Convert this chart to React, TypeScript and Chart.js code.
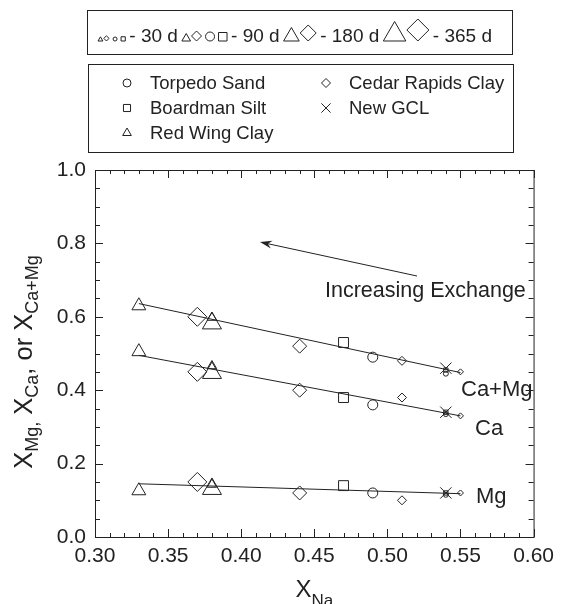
import React, { useEffect, useRef } from "react";
import { Chart, registerables } from "chart.js";
import { drawPoint } from "chart.js/helpers";

Chart.register(...registerables);

// ---------- data ----------
const xTickValues = [0.3, 0.35, 0.4, 0.45, 0.5, 0.55, 0.6];
const yTickValues = [0, 0.2, 0.4, 0.6, 0.8, 1.0];

const torpedoX = [0.49, 0.54];
const torpedoAge = [90, 30];
const torpedoCaMg = [0.49, 0.445];
const torpedoCa = [0.36, 0.335];
const torpedoMg = [0.12, 0.115];

const boardmanX = [0.47, 0.54];
const boardmanAge = [90, 30];
const boardmanCaMg = [0.53, 0.455];
const boardmanCa = [0.38, 0.34];
const boardmanMg = [0.14, 0.12];

const redWingX = [0.33, 0.38, 0.38];
const redWingAge = [180, 90, 365];
const redWingCaMg = [0.63, 0.598, 0.582];
const redWingCa = [0.505, 0.466, 0.447];
const redWingMg = [0.126, 0.143, 0.131];

const cedarX = [0.37, 0.44, 0.51, 0.55];
const cedarAge = [365, 180, 90, 30];
const cedarCaMg = [0.6, 0.52, 0.48, 0.45];
const cedarCa = [0.45, 0.4, 0.38, 0.33];
const cedarMg = [0.15, 0.12, 0.1, 0.12];

const gclX = [0.54];
const gclCaMg = [0.46];
const gclCa = [0.34];
const gclMg = [0.12];

const fitX = [0.33, 0.55];
const fitCaMg = [0.636, 0.448];
const fitCa = [0.495, 0.33];
const fitMg = [0.145, 0.118];

const ageLabels = ["- 30 d", "- 90 d", "- 180 d", "- 365 d"];
const soilNames = ["Torpedo Sand", "Boardman Silt", "Red Wing Clay", "Cedar Rapids Clay", "New GCL"];
const curveLabels = ["Ca+Mg", "Ca", "Mg"];

// ---------- styling ----------
const INK = "#222";
const FONT = "'Liberation Sans', Arial, Helvetica, sans-serif";

const sizeByStyle: Record<string, Record<number, number>> = {
  triangle: { 30: 2.5, 90: 5.5, 180: 8, 365: 11 },
  rectRot: { 30: 3, 90: 4.5, 180: 7, 365: 9.5 },
  circle: { 30: 2.5, 90: 5, 180: 7, 365: 9 },
  rect: { 30: 3, 90: 7, 180: 9, 365: 11 },
  crossRot: { 30: 8, 90: 8, 180: 8, 365: 8 },
};

function soilDataset(label: string, style: string, xs: number[], ages: number[], a: number[], b: number[], c: number[]) {
  const data = [
    ...xs.map((x, i) => ({ x, y: a[i] })),
    ...xs.map((x, i) => ({ x, y: b[i] })),
    ...xs.map((x, i) => ({ x, y: c[i] })),
  ];
  const radii = [...ages, ...ages, ...ages].map((d) => sizeByStyle[style][d]);
  return {
    label,
    data,
    showLine: false,
    pointStyle: style,
    pointRadius: radii,
    pointHoverRadius: radii,
    pointBorderWidth: 1,
    pointBorderColor: INK,
    pointBackgroundColor: "rgba(0,0,0,0)",
    borderColor: INK,
    backgroundColor: "rgba(0,0,0,0)",
  };
}

function fitDataset(label: string, ys: number[]) {
  return {
    label,
    data: fitX.map((x, i) => ({ x, y: ys[i] })),
    showLine: true,
    pointRadius: 0,
    borderColor: INK,
    borderWidth: 1,
    backgroundColor: INK,
  };
}

function marker(ctx: CanvasRenderingContext2D, style: string, x: number, y: number, r: number) {
  ctx.save();
  ctx.strokeStyle = INK;
  ctx.fillStyle = "rgba(0,0,0,0)";
  ctx.lineWidth = 1;
  drawPoint(ctx, { pointStyle: style as any, radius: r, rotation: 0, borderWidth: 1 } as any, x, y);
  ctx.restore();
}

function halfWidth(style: string, r: number) {
  if (style === "triangle") return r * 0.866;
  if (style === "rect") return r * 0.707;
  if (style === "crossRot") return r * 0.707;
  return r;
}
function bottomAlignedY(style: string, r: number, base: number) {
  if (style === "triangle") return base - r / 2;
  if (style === "rect") return base - r * 0.707;
  return base - r;
}

function subText(ctx: CanvasRenderingContext2D, parts: [string, boolean][], x: number, y: number, big: number, small: number, drop: number, measureOnly = false) {
  let w = 0;
  for (const [t, sub] of parts) {
    ctx.font = `${sub ? small : big}px ${FONT}`;
    if (!measureOnly) ctx.fillText(t, x + w, sub ? y + drop : y);
    w += ctx.measureText(t).width;
  }
  return w;
}

const decorPlugin = {
  id: "decor",
  afterDraw(chart: any) {
    const ctx: CanvasRenderingContext2D = chart.ctx;
    const { left, right, top, bottom } = chart.chartArea;
    const xs = chart.scales.x;
    const ys = chart.scales.y;
    ctx.save();
    ctx.strokeStyle = INK;
    ctx.fillStyle = INK;
    ctx.lineWidth = 1;

    // frame
    ctx.strokeRect(left + 0.5, top + 0.5, right - left, bottom - top);

    // inward ticks
    ctx.beginPath();
    for (let i = 30; i <= 60; i++) {
      const px = Math.round(xs.getPixelForValue(i / 100)) + 0.5;
      const len = i % 5 === 0 ? 8 : 4;
      ctx.moveTo(px, bottom);
      ctx.lineTo(px, bottom - len);
      ctx.moveTo(px, top);
      ctx.lineTo(px, top + len);
    }
    for (let i = 0; i <= 20; i++) {
      const py = Math.round(ys.getPixelForValue(i * 0.05)) + 0.5;
      const len = i % 4 === 0 ? 8 : 5;
      ctx.moveTo(left, py);
      ctx.lineTo(left + len, py);
      ctx.moveTo(right, py);
      ctx.lineTo(right - len, py);
    }
    ctx.stroke();

    // axis titles
    ctx.textBaseline = "alphabetic";
    ctx.textAlign = "left";
    const xParts: [string, boolean][] = [["X", false], ["Na", true]];
    const xw = subText(ctx, xParts, 0, 0, 24, 17, 8, true);
    subText(ctx, xParts, (left + right) / 2 - xw / 2, 597, 24, 17, 9);

    const yParts: [string, boolean][] = [
      ["X", false], ["Mg,", true], [" X", false], ["Ca", true], [",", false], [" or X", false], ["Ca+Mg", true],
    ];
    ctx.save();
    ctx.translate(32, 362);
    ctx.rotate(-Math.PI / 2);
    const yw = subText(ctx, yParts, 0, 0, 25.5, 18, 6, true);
    subText(ctx, yParts, -yw / 2, 0, 25.5, 18, 6);
    ctx.restore();

    // curve labels
    ctx.font = `22px ${FONT}`;
    ctx.textBaseline = "middle";
    ctx.fillText(curveLabels[0], 461, 390);
    ctx.fillText(curveLabels[1], 475, 429);
    ctx.fillText(curveLabels[2], 476, 497);

    // arrow + text
    ctx.font = `21.5px ${FONT}`;
    ctx.textBaseline = "middle";
    ctx.fillText("Increasing Exchange", 325, 291);
    const ax0 = 417, ay0 = 276, ax1 = 260, ay1 = 242;
    ctx.beginPath();
    ctx.moveTo(ax0, ay0);
    ctx.lineTo(ax1 + 6, ay1 + 1.3);
    ctx.stroke();
    const ang = Math.atan2(ay1 - ay0, ax1 - ax0);
    ctx.beginPath();
    ctx.moveTo(ax1, ay1);
    ctx.lineTo(ax1 - 12 * Math.cos(ang) - 4 * Math.sin(ang), ay1 - 12 * Math.sin(ang) + 4 * Math.cos(ang));
    ctx.lineTo(ax1 - 8 * Math.cos(ang), ay1 - 8 * Math.sin(ang));
    ctx.lineTo(ax1 - 12 * Math.cos(ang) + 4 * Math.sin(ang), ay1 - 12 * Math.sin(ang) - 4 * Math.cos(ang));
    ctx.closePath();
    ctx.fill();

    // legend 1 (ages)
    ctx.strokeRect(87.5, 10.5, 425, 44);
    const base = 42;
    ctx.textBaseline = "alphabetic";
    let cx = 98;
    const groups: { m: [string, number][]; t: string }[] = [
      { m: [["triangle", 2.8], ["rectRot", 2.6], ["circle", 2], ["rect", 3]], t: ageLabels[0] },
      { m: [["triangle", 5], ["rectRot", 5], ["circle", 4.5], ["rect", 6]], t: ageLabels[1] },
      { m: [["triangle", 9], ["rectRot", 8]], t: ageLabels[2] },
      { m: [["triangle", 13], ["rectRot", 11]], t: ageLabels[3] },
    ];
    for (const g of groups) {
      g.m.forEach(([s, r], k) => {
        const hw = halfWidth(s, r);
        const gap = k === 0 ? 0 : (g.m.length === 4 && k >= 2 ? 4 : 1);
        cx += gap + hw;
        marker(ctx, s, cx, bottomAlignedY(s, r, base - 1), r);
        cx += hw;
      });
      cx += 4;
      ctx.font = `19px ${FONT}`;
      ctx.fillText(g.t, cx, base);
      cx += ctx.measureText(g.t).width + 4;
    }

    // legend 2 (soils)
    ctx.strokeRect(88.5, 64.5, 425, 88);
    ctx.font = `18.5px ${FONT}`;
    ctx.textBaseline = "middle";
    const entries: [string, string, number, number, number][] = [
      [soilNames[0], "circle", 4, 127, 83],
      [soilNames[1], "rect", 5, 127, 108],
      [soilNames[2], "triangle", 5, 127, 133],
      [soilNames[3], "rectRot", 4.5, 326, 83],
      [soilNames[4], "crossRot", 6.5, 326, 108],
    ];
    for (const [name, s, r, mx, my] of entries) {
      marker(ctx, s, mx, my, r);
      ctx.fillText(name, mx + 23, my + 1);
    }
    ctx.restore();
  },
};

export default function App() {
  const ref = useRef<HTMLCanvasElement>(null);
  useEffect(() => {
    if (!ref.current) return;
    const chart = new Chart(ref.current, {
      type: "scatter",
      data: {
        datasets: [
          fitDataset("fit Ca+Mg", fitCaMg),
          fitDataset("fit Ca", fitCa),
          fitDataset("fit Mg", fitMg),
          soilDataset(soilNames[0], "circle", torpedoX, torpedoAge, torpedoCaMg, torpedoCa, torpedoMg),
          soilDataset(soilNames[1], "rect", boardmanX, boardmanAge, boardmanCaMg, boardmanCa, boardmanMg),
          soilDataset(soilNames[2], "triangle", redWingX, redWingAge, redWingCaMg, redWingCa, redWingMg),
          soilDataset(soilNames[3], "rectRot", cedarX, cedarAge, cedarCaMg, cedarCa, cedarMg),
          soilDataset(soilNames[4], "crossRot", gclX, [30], gclCaMg, gclCa, gclMg),
        ] as any,
      },
      options: {
        responsive: false,
        animation: false,
        events: [],
        layout: { padding: { top: 170, right: 24, left: 0, bottom: 0 } },
        plugins: { legend: { display: false }, tooltip: { enabled: false }, title: { display: false } },
        scales: {
          x: {
            type: "linear",
            min: 0.3,
            max: 0.6,
            afterBuildTicks: (s: any) => { s.ticks = xTickValues.map((v) => ({ value: v })); },
            afterFit: (s: any) => { s.height = 67; },
            grid: { display: false, drawTicks: false },
            border: { display: false },
            ticks: {
              padding: 7,
              color: INK,
              font: { family: FONT, size: 21 },
              callback: (v: any) => Number(v).toFixed(2),
              maxRotation: 0,
              autoSkip: false,
            },
          },
          y: {
            type: "linear",
            min: 0,
            max: 1,
            afterBuildTicks: (s: any) => { s.ticks = yTickValues.map((v) => ({ value: v })); },
            afterFit: (s: any) => { s.width = 95; },
            grid: { display: false, drawTicks: false },
            border: { display: false },
            ticks: {
              padding: 9,
              color: INK,
              font: { family: FONT, size: 21 },
              callback: (v: any) => Number(v).toFixed(1),
              autoSkip: false,
            },
          },
        },
      },
      plugins: [decorPlugin],
    } as any);
    return () => chart.destroy();
  }, []);
  return (
    <div style={{ position: "fixed", left: 0, top: 0, width: 561, height: 604, background: "#fff" }}>
      <canvas ref={ref} width={561} height={604} style={{ display: "block" }} />
    </div>
  );
}
